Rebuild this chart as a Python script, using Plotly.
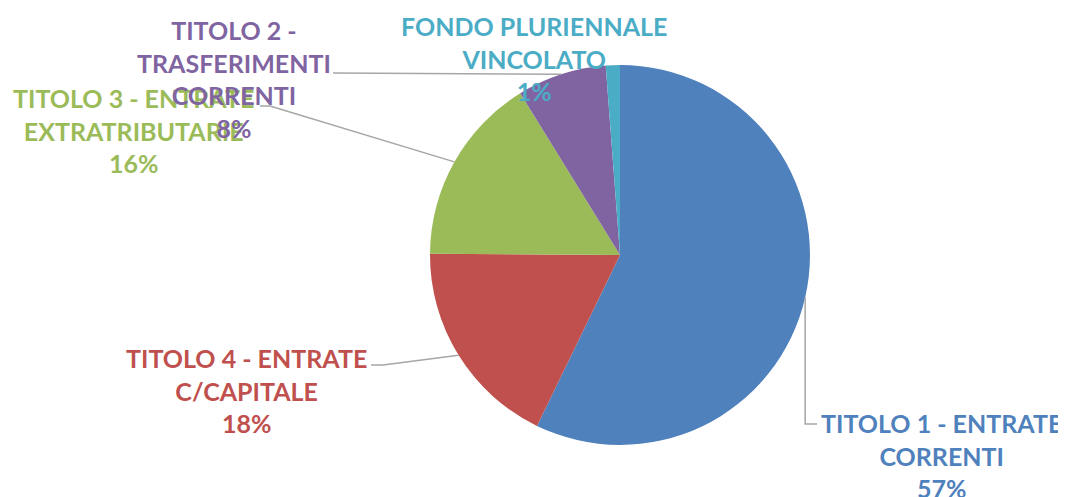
import math
import plotly.graph_objects as go

# ---- data ----
categories = [
    "TITOLO 1 - ENTRATE<br>CORRENTI",
    "TITOLO 4 - ENTRATE<br>C/CAPITALE",
    "TITOLO 3 - ENTRATE<br>EXTRATRIBUTARIE",
    "TITOLO 2 -<br>TRASFERIMENTI<br>CORRENTI",
    "FONDO PLURIENNALE<br>VINCOLATO",
]
values = [57.2, 17.9, 16.1, 7.6, 1.2]
colors = ["#4F81BD", "#C0504D", "#9BBB59", "#8064A2", "#4BACC6"]

# ---- layout (pixels in the screenshot; page body has an 8px margin) ----
OFF = 8
W, H = 1066 - OFF, 497 - OFF
CX, CY, R = 620, 255, 190
FONT = "Lato, Liberation Sans, sans-serif"
FS = 25
label_pos = [(941, 455), (246, 390), (133, 130), (234, 79), (534, 58)]
leader_end = [(817, 424, "v"), (371, 365, "k"), (260, 106, "k"), (333, 73, "h"), None]
knee = [None, (383, 365), (270, 106), None, None]


def px(x, y):
    return (x - OFF) / W, 1 - (y - OFF) / H


x0, y1 = px(CX - R, CY - R)
x1, y0 = px(CX + R, CY + R)

fig = go.Figure(
    go.Pie(
        labels=categories,
        values=values,
        marker=dict(colors=colors, line=dict(width=0)),
        sort=False,
        direction="clockwise",
        rotation=0,
        textinfo="none",
        hoverinfo="label+percent",
        domain=dict(x=[x0, x1], y=[y0, y1]),
        showlegend=False,
    )
)

total = sum(values)
cum = 0.0
shapes = []
annotations = []
for i, (lab, v) in enumerate(zip(categories, values)):
    mid = (cum + v / 2) / total * 2 * math.pi
    cum += v
    ex = CX + R * math.sin(mid)
    ey = CY - R * math.cos(mid)
    le = leader_end[i]
    if le is not None:
        lx, ly, kind = le
        if kind == "v":
            pts = [(ex, ey), (ex, ly), (lx, ly)]
        elif kind == "k":
            pts = [(ex, ey), knee[i], (lx, ly)]
        else:
            pts = [(ex, ey), (lx, ly)]
        path = ""
        for j, (a, b) in enumerate(pts):
            qx, qy = px(a, b)
            path += ("M" if j == 0 else " L") + f" {qx:.5f},{qy:.5f}"
        shapes.append(dict(type="path", xref="paper", yref="paper", path=path,
                           line=dict(color="#A6A6A6", width=1.5)))
    pct = round(v / total * 100)
    tx, ty = px(*label_pos[i])
    annotations.append(dict(
        x=tx, y=ty, xref="paper", yref="paper", xanchor="center", yanchor="middle",
        text=f"<b>{lab}<br>{pct}%</b>", showarrow=False, align="center",
        font=dict(family=FONT, size=FS, color=colors[i]),
    ))

fig.update_layout(
    width=W, height=H,
    margin=dict(l=0, r=0, t=0, b=0),
    paper_bgcolor="white", plot_bgcolor="white",
    shapes=shapes, annotations=annotations,
)

fig.write_html("out.html")
